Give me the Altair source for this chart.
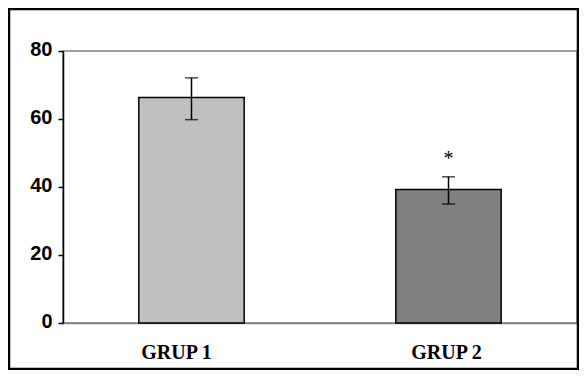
import altair as alt
import pandas as pd

groups = ["GRUP 1", "GRUP 2"]
means = [66.3, 39.3]
err_low = [59.8, 35.0]
err_high = [72.1, 43.0]
marks = ["", "*"]
colors = ["#C0C0C0", "#808080"]

df = pd.DataFrame({"group": groups, "mean": means, "lo": err_low, "hi": err_high,
                   "sig": marks, "sig_y": [h + 6 for h in err_high]})

W, H = 514, 272
x = alt.X("group:N", sort=groups, title=None,
          scale=alt.Scale(paddingInner=0.59, paddingOuter=0.295),
          axis=alt.Axis(labelAngle=0, ticks=False, labelPadding=19,
                        labelFont="Liberation Serif", labelFontWeight="bold",
                        labelFontSize=20, labelColor="#000000",
                        labelOffset=alt.ExprRef("datum.value == 'GRUP 1' ? -15 : -2"),
                        domainColor="#808080", domainWidth=1.5))
y = alt.Y("mean:Q", title=None,
          scale=alt.Scale(domain=[0, 80]),
          axis=alt.Axis(values=[0, 20, 40, 60, 80], grid=False, tickSize=5,
                        tickColor="#000000", tickWidth=1.5,
                        domainColor="#000000", domainWidth=1.5,
                        labelFont="Liberation Sans", labelFontWeight="bold",
                        labelFontSize=20, labelColor="#000000", labelPadding=6,
                        labelOffset=-2))

base = alt.Chart(df)

bars = base.mark_bar(stroke="#000000", strokeWidth=1.5).encode(
    x=x, y=y,
    color=alt.Color("group:N", scale=alt.Scale(domain=groups, range=colors), legend=None))

rule = base.mark_rule(color="#000000", strokeWidth=1.5).encode(
    x=alt.X("group:N", sort=groups), y="lo:Q", y2="hi:Q")
cap_hi = base.mark_tick(color="#000000", size=13, thickness=1.5).encode(
    x=alt.X("group:N", sort=groups), y="hi:Q")
cap_lo = base.mark_tick(color="#000000", size=13, thickness=1.5).encode(
    x=alt.X("group:N", sort=groups), y="lo:Q")
star = base.mark_text(font="Liberation Serif", fontSize=20, color="#000000",
                      baseline="middle", dy=3).encode(
    x=alt.X("group:N", sort=groups), y="sig_y:Q", text="sig:N")

border = alt.Chart(pd.DataFrame({"a": [0]})).mark_rect(
    fill=None, stroke="#000000", strokeWidth=2.5, clip=False).encode(
    x=alt.value(-54), x2=alt.value(W + 1), y=alt.value(-42), y2=alt.value(H + 46))

chart = alt.layer(border, bars, rule, cap_hi, cap_lo, star).properties(
    width=W, height=H,
    background="#ffffff",
    autosize=alt.AutoSizeParams(type="none"),
    padding={"left": 55, "top": 43, "right": 2, "bottom": 47},
).configure_view(stroke="#808080", strokeWidth=1.5)

chart.save("out.html", embed_options={"renderer": "svg", "actions": False})
